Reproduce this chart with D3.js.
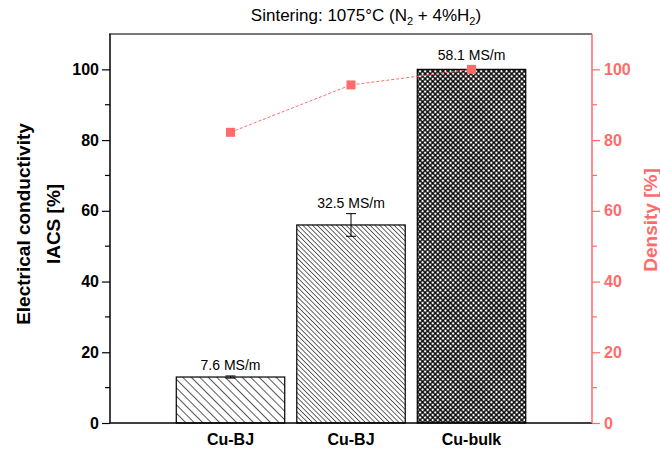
<!DOCTYPE html>
<html>
<head>
<meta charset="utf-8">
<script src="https://cdn.jsdelivr.net/npm/d3@7"></script>
<style>
  body { margin: 0; background: #fff; }
  svg { font-family: Arial, "Liberation Sans", sans-serif; }
</style>
</head>
<body>
<svg id="chart" width="660" height="450"></svg>
<script>
// data
const categories = ["Cu-BJ", "Cu-BJ", "Cu-bulk"];
const iacs = [13.0, 56.0, 100.0];
const iacsErr = [0.3, 3.2, 0];
const conductivityLabels = ["7.6 MS/m", "32.5 MS/m", "58.1 MS/m"];
const density = [82.2, 95.6, 100.0];
const yTicks = [0, 20, 40, 60, 80, 100];

const PINK = "#ff6b6b";

//dimensions
const margin = {left: 110, right: 68, top: 34, bottom: 27};
const width = 660, height = 450;
const x0 = margin.left, x1 = width - margin.right;
const y0 = height - margin.bottom, y1 = margin.top;

const svg = d3.select("#chart");

// scales: categories sit at 1,2,3 on a 0..4 axis
const x = d3.scaleLinear().domain([0, 4]).range([x0, x1]);
const y = d3.scaleLinear().domain([0, 110]).range([y0, y1]);
const yR = d3.scaleLinear().domain([0, 110]).range([y0, y1]);
const barW = x(0.9) - x(0);

//patterns
const defs = svg.append("defs");
const hatch = (id, gap, sw) => {
    const p = defs.append("pattern")
        .attr("id", id)
        .attr("patternUnits", "userSpaceOnUse")
        .attr("width", gap).attr("height", gap)
        .attr("patternTransform", "rotate(-45)");
    p.append("rect").attr("width", gap).attr("height", gap).attr("fill", "#fff");
    p.append("line")
        .attr("x1", 0).attr("y1", 0).attr("x2", 0).attr("y2", gap)
        .attr("stroke", "#000").attr("stroke-width", sw);
};
hatch("hatch1", 6, 1.3);
hatch("hatch2", 3.4, 1.2);
const cross = defs.append("pattern")
    .attr("id", "cross")
    .attr("patternUnits", "userSpaceOnUse")
    .attr("width", 3.6).attr("height", 3.6)
    .attr("patternTransform", "rotate(45)");
cross.append("rect").attr("width", 3.6).attr("height", 3.6).attr("fill", "#000");
cross.append("rect").attr("x", 0.7).attr("y", 0.7).attr("width", 2.2).attr("height", 2.2).attr("fill", "#fff");
const fills = ["url(#hatch1)", "url(#hatch2)", "url(#cross)"];

//bars
const barG = svg.append("g").attr("class", "bars");
barG.selectAll("rect.bar").data(iacs)
    .enter()
    .append("rect")
        .attr("class", "bar")
        .attr("x", (d, i) => x(i + 1) - barW / 2)
        .attr("y", d => y(d))
        .attr("width", barW)
        .attr("height", d => y(0) - y(d))
        .attr("fill", (d, i) => fills[i])
        .attr("stroke", "#000")
        .attr("stroke-width", 1.2);

// error bars
const errG = barG.selectAll("g.err").data(iacs)
    .enter()
    .append("g")
        .attr("class", "err")
        .filter((d, i) => iacsErr[i] > 0);
errG.append("line")
    .attr("x1", (d, i) => x(i + 1)).attr("x2", (d, i) => x(i + 1))
    .attr("y1", (d, i) => y(d + iacsErr[i])).attr("y2", (d, i) => y(d - iacsErr[i]))
    .attr("stroke", "#000").attr("stroke-width", 1);
[1, -1].forEach(s => {
    errG.append("line")
        .attr("x1", (d, i) => x(i + 1) - 5).attr("x2", (d, i) => x(i + 1) + 5)
        .attr("y1", (d, i) => y(d + s * iacsErr[i])).attr("y2", (d, i) => y(d + s * iacsErr[i]))
        .attr("stroke", "#000").attr("stroke-width", 1);
});

// value labels
barG.selectAll("text.val").data(iacs)
    .enter()
    .append("text")
        .attr("class", "val")
        .attr("x", (d, i) => x(i + 1))
        .attr("y", (d, i) => y(d + iacsErr[i]) - (i === 2 ? 9 : 6))
        .attr("text-anchor", "middle")
        .style("font-size", "14px")
        .text((d, i) => conductivityLabels[i]);

//density line
const line = d3.line().x((d, i) => x(i + 1)).y(d => yR(d));
svg.append("path")
    .datum(density)
    .attr("d", line)
    .attr("fill", "none")
    .attr("stroke", PINK)
    .attr("stroke-width", 1)
    .attr("stroke-dasharray", "3,2");
svg.selectAll("rect.pt").data(density)
    .enter()
    .append("rect")
        .attr("class", "pt")
        .attr("x", (d, i) => x(i + 1) - 4.5)
        .attr("y", d => yR(d) - 4.5)
        .attr("width", 9).attr("height", 9)
        .attr("fill", PINK);

//axes
const minor = d3.range(10, 110, 20);
// top frame line
svg.append("line")
    .attr("x1", x0 - 1).attr("x2", x1)
    .attr("y1", y1).attr("y2", y1)
    .attr("stroke", "#777").attr("stroke-width", 2);
// bottom line
svg.append("line")
    .attr("x1", x0).attr("x2", x1)
    .attr("y1", y0).attr("y2", y0)
    .attr("stroke", "#000").attr("stroke-width", 1.5);

const leftAxis = svg.append("g")
    .attr("transform", `translate(${x0},0)`)
    .call(d3.axisLeft(y).tickValues(yTicks).tickSize(8).tickPadding(3));
leftAxis.select(".domain").attr("d", `M0,${y0}V${y1}`).attr("stroke-width", 1.5);
leftAxis.selectAll(".tick line").attr("stroke-width", 1.2);
leftAxis.selectAll("text").style("font-size", "16px").style("font-weight", "bold").attr("fill", "#000");
leftAxis.selectAll("line.minor").data(minor).enter()
    .append("line").attr("class", "minor")
    .attr("x1", -5).attr("x2", 0)
    .attr("y1", d => y(d)).attr("y2", d => y(d))
    .attr("stroke", "#000").attr("stroke-width", 1.2);

const rightAxis = svg.append("g")
    .attr("transform", `translate(${x1},0)`)
    .call(d3.axisRight(yR).tickValues(yTicks).tickSize(8).tickPadding(4));
rightAxis.select(".domain").attr("d", `M0,${y0}V${y1}`).attr("stroke", PINK).attr("stroke-width", 1.5);
rightAxis.selectAll(".tick line").attr("stroke", PINK).attr("stroke-width", 1.2);
rightAxis.selectAll("text").style("font-size", "16px").style("font-weight", "bold").attr("fill", PINK);
rightAxis.selectAll("line.minor").data(minor).enter()
    .append("line").attr("class", "minor")
    .attr("x1", 0).attr("x2", 5)
    .attr("y1", d => yR(d)).attr("y2", d => yR(d))
    .attr("stroke", PINK).attr("stroke-width", 1.2);

// category labels
svg.selectAll("text.cat").data(categories)
    .enter()
    .append("text")
        .attr("class", "cat")
        .attr("x", (d, i) => x(i + 1))
        .attr("y", 445)
        .attr("text-anchor", "middle")
        .style("font-size", "16px")
        .style("font-weight", "bold")
        .text(d => d);

// axis titles
const yTitle = svg.append("text")
    .attr("transform", "translate(30,224) rotate(-90)")
    .attr("text-anchor", "middle")
    .style("font-size", "19px")
    .style("font-weight", "bold");
yTitle.append("tspan").attr("x", 0).attr("dy", 0).text("Electrical conductivity");
yTitle.append("tspan").attr("x", 0).attr("dy", 30).text("IACS [%]");

svg.append("text")
    .attr("transform", "translate(657,220) rotate(-90)")
    .attr("text-anchor", "middle")
    .style("font-size", "19px")
    .style("font-weight", "bold")
    .attr("fill", PINK)
    .text("Density [%]");

// title
const title = svg.append("text")
    .attr("x", 366).attr("y", 21)
    .attr("text-anchor", "middle")
    .style("font-size", "17px");
title.append("tspan").text("Sintering: 1075°C (N");
title.append("tspan").attr("dy", 4).style("font-size", "11px").text("2");
title.append("tspan").attr("dy", -4).text(" + 4%H");
title.append("tspan").attr("dy", 4).style("font-size", "11px").text("2");
title.append("tspan").attr("dy", -4).text(")");
</script>
</body>
</html>
